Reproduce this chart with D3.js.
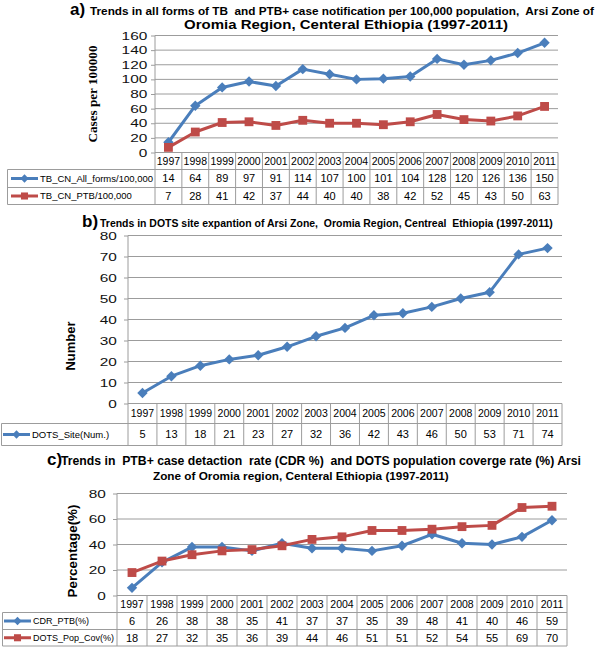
<!DOCTYPE html>
<html>
<head>
  <meta charset="UTF-8">
  <style>
    body { margin: 0; padding: 0; background: #fff; }
    svg { display: block; }
    .title { font-weight: bold; white-space: pre; }
  </style>
</head>
<body>
  <svg></svg>
  <script src="https://d3js.org/d3.v7.min.js"></script>
  <script>
    // data
    const years = ["1997", "1998", "1999", "2000", "2001", "2002", "2003", "2004",
                   "2005", "2006", "2007", "2008", "2009", "2010", "2011"];
    const tbAllForms = [14, 64, 89, 97, 91, 114, 107, 100, 101, 104, 128, 120, 126, 136, 150];
    const tbPtb = [7, 28, 41, 42, 37, 44, 40, 40, 38, 42, 52, 45, 43, 50, 63];
    const dotsSites = [5, 13, 18, 21, 23, 27, 32, 36, 42, 43, 46, 50, 53, 71, 74];
    const cdrPtb = [6, 26, 38, 38, 35, 41, 37, 37, 35, 39, 48, 41, 40, 46, 59];
    const dotsPopCov = [18, 27, 32, 35, 36, 39, 44, 46, 51, 51, 52, 54, 55, 69, 70];

    const ticksA = [0, 20, 40, 60, 80, 100, 120, 140, 160];
    const ticksB = [0, 10, 20, 30, 40, 50, 60, 70, 80];
    const ticksC = [0, 20, 40, 60, 80];

    const blue = "#4a7ebb", red = "#be4b48", grey = "#9c9c9c";
    const sans = "'Liberation Sans', Arial, Helvetica, sans-serif";
    const serif = "'Liberation Serif', 'Times New Roman', serif";
    const width = 600, height = 647;

    const svg = d3.select("svg").attr("width", width).attr("height", height)
        .style("font-family", sans);

    function marker(shape) {
        if (shape === "diamond") return d3.symbol(d3.symbolSquare, 54)();
        return d3.symbol(d3.symbolSquare, 78)();
    }
    function markerRot(shape) { return shape === "diamond" ? " rotate(45)" : ""; }

    // scale font size so the text spans the wanted width
    function fit(sel, target) {
        const base = 12;
        sel.attr("font-size", base);
        const w = sel.node().getComputedTextLength();
        sel.attr("font-size", (base * target / w).toFixed(2));
        return sel;
    }

    function drawPanel(p) {
        const x = d3.scaleBand().domain(years).range([p.left, p.right]);
        const y = d3.scaleLinear().domain([0, d3.max(p.ticks)]).range([p.bottom, p.top]);
        const bw = x.bandwidth();
        const g = svg.append("g");

        // gridlines
        g.selectAll("line.grid")
            .data(p.ticks.slice(1))
            .join("line")
            .attr("class", "grid")
            .attr("x1", p.left).attr("x2", p.right)
            .attr("y1", d => y(d)).attr("y2", d => y(d))
            .attr("stroke", grey).attr("stroke-width", 1);

        const ax = g.append("g")
            .attr("transform", `translate(${p.left},0)`)
            .call(d3.axisLeft(y).tickValues(p.ticks).tickSize(4).tickPadding(p.pad));
        ax.select(".domain").remove();
        ax.selectAll("line").attr("stroke", grey);
        ax.selectAll("text")
            .attr("font-size", 11)
            .style("font-family", sans)
            .attr("fill", "#111")
            .attr("transform", "scale(1.4,1)");

        // axis line running down into the table
        g.append("line")
            .attr("x1", p.left).attr("x2", p.left)
            .attr("y1", p.top).attr("y2", p.rows[p.rows.length - 1])
            .attr("stroke", grey);

        // y title
        const yt = g.append("text")
            .attr("transform", `translate(${p.yTitle.x},${p.yTitle.y}) rotate(-90)`)
            .attr("text-anchor", "middle")
            .attr("dominant-baseline", "central")
            .attr("font-weight", "bold")
            .style("font-family", p.yTitle.font)
            .text(p.yTitle.text);
        fit(yt, p.yTitle.len);

        // data table
        const t = g.append("g");
        const rows = p.rows;
        const last = rows[rows.length - 1];
        t.append("line").attr("x1", p.left).attr("x2", p.right)
            .attr("y1", rows[0]).attr("y2", rows[0]).attr("stroke", grey);
        rows.slice(1).forEach(r => {
            t.append("line").attr("x1", p.tableLeft).attr("x2", p.right)
                .attr("y1", r).attr("y2", r).attr("stroke", grey);
        });
        t.selectAll("line.col")
            .data(years)
            .join("line")
            .attr("class", "col")
            .attr("x1", d => x(d) + bw).attr("x2", d => x(d) + bw)
            .attr("y1", rows[0]).attr("y2", last)
            .attr("stroke", grey);
        t.append("line").attr("x1", p.tableLeft).attr("x2", p.tableLeft)
            .attr("y1", rows[1]).attr("y2", last).attr("stroke", grey);

        t.selectAll("text.year")
            .data(years)
            .join("text")
            .attr("class", "year")
            .attr("x", d => x(d) + bw / 2)
            .attr("y", (rows[0] + rows[1]) / 2)
            .attr("dy", "0.36em")
            .attr("text-anchor", "middle")
            .attr("font-size", 10.5)
            .text(d => d);

        p.series.forEach((s, i) => {
            const cy = (rows[i + 1] + rows[i + 2]) / 2;
            t.selectAll(null)
                .data(s.values)
                .join("text")
                .attr("x", (d, j) => x(years[j]) + bw / 2)
                .attr("y", cy)
                .attr("dy", "0.36em")
                .attr("text-anchor", "middle")
                .attr("font-size", 11)
                .text(d => d);
            t.append("line")
                .attr("x1", p.leg[0]).attr("x2", p.leg[1])
                .attr("y1", cy).attr("y2", cy)
                .attr("stroke", s.color).attr("stroke-width", 3);
            t.append("path")
                .attr("d", marker(s.shape))
                .attr("transform", `translate(${(p.leg[0] + p.leg[1]) / 2},${cy})${markerRot(s.shape)} scale(0.8)`)
                .attr("fill", s.color);
            t.append("text")
                .attr("x", p.leg[2]).attr("y", cy)
                .attr("dy", "0.36em")
                .attr("font-size", p.legSize)
                .text(s.name);
        });

        // series lines and markers
        p.series.forEach(s => {
            const line = d3.line()
                .x((d, j) => x(years[j]) + bw / 2)
                .y(d => y(d));
            g.append("path")
                .datum(s.values)
                .attr("d", line)
                .attr("fill", "none")
                .attr("stroke", s.color)
                .attr("stroke-width", 3)
                .attr("stroke-linejoin", "round");
            g.selectAll(null)
                .data(s.values)
                .join("path")
                .attr("d", marker(s.shape))
                .attr("transform", (d, j) => `translate(${x(years[j]) + bw / 2},${y(d)})${markerRot(s.shape)}`)
                .attr("fill", s.color);
        });
    }

    function title(lead, lx, rest, x1, x2, yb, size) {
        if (lead) {
            svg.append("text").attr("class", "title")
                .attr("x", lx).attr("y", yb)
                .attr("font-size", 17)
                .text(lead);
        }
        const tt = svg.append("text").attr("class", "title")
            .attr("x", x1).attr("y", yb)
            .text(rest);
        if (size) {
            tt.attr("font-size", size)
                .attr("textLength", x2 - x1)
                .attr("lengthAdjust", "spacingAndGlyphs");
        } else {
            fit(tt, x2 - x1);
        }
    }

    title("a)", 70, "Trends in all forms of TB  and PTB+ case notification per 100,000 population,  Arsi Zone of", 90, 594, 14.5);
    title(null, 0, "Oromia Region, Centeral Ethiopia (1997-2011)", 184, 508, 28.5, 12);
    title("b)", 82, "Trends in DOTS site expantion of Arsi Zone,  Oromia Region, Centreal  Ethiopia (1997-2011)", 100, 553, 226.5);
    title("c)", 47, "Trends in  PTB+ case detaction  rate (CDR %)  and DOTS population coverge rate (%) Arsi", 61, 581, 464.5);
    title(null, 0, "Zone of Oromia region, Centeral Ethiopia (1997-2011)", 153, 449, 480);

    drawPanel({
        left: 155, right: 558, top: 35.5, bottom: 152.5, ticks: ticksA, pad: 1.5,
        rows: [152.5, 169.5, 187.5, 204.5], tableLeft: 7.5,
        leg: [11, 38, 40], legSize: 9.5,
        yTitle: { text: "Cases per 100000", x: 92, y: 94, len: 97, font: serif },
        series: [
            { name: "TB_CN_All_forms/100,000", values: tbAllForms, color: blue, shape: "diamond" },
            { name: "TB_CN_PTB/100,000", values: tbPtb, color: red, shape: "square" }
        ]
    });

    drawPanel({
        left: 128, right: 562, top: 235.5, bottom: 403.5, ticks: ticksB, pad: 4,
        rows: [403.5, 423.5, 445.5], tableLeft: 1.5,
        leg: [3, 30, 32], legSize: 9.5,
        yTitle: { text: "Number", x: 70, y: 346, len: 49, font: sans },
        series: [
            { name: "DOTS_Site(Num.)", values: dotsSites, color: blue, shape: "diamond" }
        ]
    });

    drawPanel({
        left: 117, right: 567, top: 493.5, bottom: 595.5, ticks: ticksC, pad: 4,
        rows: [595.5, 612.5, 629.5, 646], tableLeft: 2.5,
        leg: [4, 31, 33], legSize: 9,
        yTitle: { text: "Percentage(%)", x: 72, y: 551, len: 93, font: sans },
        series: [
            { name: "CDR_PTB(%)", values: cdrPtb, color: blue, shape: "diamond" },
            { name: "DOTS_Pop_Cov(%)", values: dotsPopCov, color: red, shape: "square" }
        ]
    });
  </script>
</body>
</html>
